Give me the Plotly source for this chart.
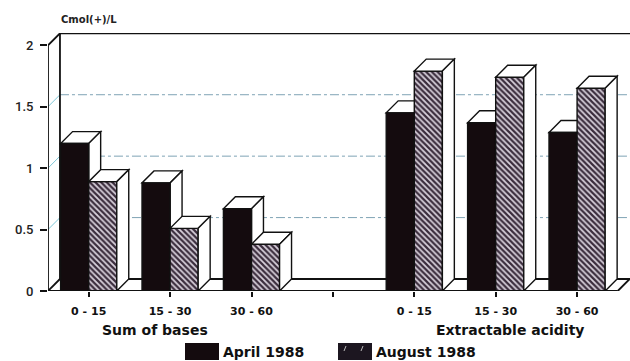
import plotly.graph_objects as go

# ---- data -------------------------------------------------------------
categories = ["0 - 15", "15 - 30", "30 - 60", "", "0 - 15", "15 - 30", "30 - 60"]
april = [1.20, 0.88, 0.67, None, 1.45, 1.37, 1.29]
august = [0.89, 0.51, 0.38, None, 1.79, 1.74, 1.65]
series_names = ["April 1988", "August 1988"]
group_titles = ["Sum of bases", "Extractable acidity"]
y_ticks = [0, 0.5, 1, 1.5, 2]
y_tick_text = ["0", "0.5", "1", "1.5", "2"]
unit_label = "Cmol(+)/L"

# ---- geometry / style -------------------------------------------------
W, H = 630, 361
M_L, M_R, M_T, M_B = 48, 0, 33, 70
X_RANGE = [-0.5, 6.65]
Y_RANGE = [0, 2.1]
BARGAP = 0.31
BAR_W = (1 - BARGAP) / 2
DX, DY = 0.147, 0.0976           # depth offset of the pseudo-3D box
HEAVY = dict(family="DejaVu Sans", size=12, color="#111", weight="bold")
EDGE = dict(color="#111", width=1.4)
GRID = dict(color="#7fa3b5", width=1, dash="dashdot")

xs = list(range(len(categories)))
x_lo, x_hi = X_RANGE

fig = go.Figure()
fig.add_trace(go.Bar(
    x=xs, y=april, name=series_names[0],
    marker=dict(color="#140b0e", line=EDGE),
))
fig.add_trace(go.Bar(
    x=xs, y=august, name=series_names[1],
    marker=dict(color="#ffffff", line=EDGE,
                pattern=dict(shape="\\", fgcolor="#3a2c3c", bgcolor="#d9d2dc",
                             size=4, solidity=0.55, fillmode="replace")),
))

shapes = []


def seg(x0, y0, x1, y1, line, layer="below"):
    shapes.append(dict(type="line", xref="x", yref="y", x0=x0, y0=y0,
                       x1=x1, y1=y1, line=line, layer=layer))


def poly(pts, layer):
    path = "M " + " L ".join(f"{a},{b}" for a, b in pts) + " Z"
    shapes.append(dict(type="path", xref="x", yref="y", path=path,
                       fillcolor="#ffffff", line=EDGE, layer=layer))


# back-wall grid lines and their links to the front axis
for v in y_ticks[1:-1]:
    seg(x_lo + DX, v + DY, x_hi, v + DY, GRID)
    seg(x_lo, v, x_lo + DX, v + DY, dict(color="#7cc6d6", width=1))

# frame: front axis, back wall, floor
frame = dict(color="#111", width=1.8)
seg(x_lo, 0, x_lo, 2, frame)
seg(x_lo, 2, x_lo + DX, 2 + DY, frame)
seg(x_lo + DX, DY, x_lo + DX, 2 + DY, frame)
seg(x_lo + DX, 2 + DY, x_hi, 2 + DY, frame)
seg(x_lo + DX, DY, x_hi, DY, frame)
seg(x_lo, 0, x_lo + DX, DY, frame)

# top and side faces of each box
for i, (a, b) in enumerate(zip(april, august)):
    if a is None:
        continue
    l0, r0 = i - BAR_W, i
    poly([(l0, a), (r0, a), (r0 + DX, a + DY), (l0 + DX, a + DY)], "below")
    poly([(r0, 0), (r0, a), (r0 + DX, a + DY), (r0 + DX, DY)], "below")
    l1, r1 = i, i + BAR_W
    poly([(l1, b), (r1, b), (r1 + DX, b + DY), (l1 + DX, b + DY)], "above")
    poly([(r1, 0), (r1, b), (r1 + DX, b + DY), (r1 + DX, DY)], "above")

# front floor line on top of everything
seg(x_lo, 0, 6.5, 0, frame, layer="above")
seg(6.5, 0, 6.5 + DX, DY, frame, layer="above")

# ---- manual legend (paper coordinates) ---------------------------------
pw, ph = W - M_L - M_R, H - M_T - M_B


def px(x):
    return (x - M_L) / pw


def py(y):
    return (H - M_B - y) / ph


legend_boxes = [(185, 219, "#140b0e"), (338, 372, "#1c1620")]
for x0, x1, col in legend_boxes:
    shapes.append(dict(type="rect", xref="paper", yref="paper",
                       x0=px(x0), x1=px(x1), y0=py(360), y1=py(343),
                       fillcolor=col, line=dict(width=0), layer="above"))
for sx in (344, 361):
    shapes.append(dict(type="line", xref="paper", yref="paper",
                       x0=px(sx), x1=px(sx + 2), y0=py(351), y1=py(346),
                       line=dict(color="#bbbbbb", width=1), layer="above"))

annotations = []
for (x0, _, _), name in zip(legend_boxes, series_names):
    annotations.append(dict(xref="paper", yref="paper", x=px(x0 + 36),
                            y=py(352), text=name, showarrow=False,
                            xanchor="left", yanchor="middle",
                            font=dict(HEAVY, size=14)))

for xc, t in zip([0.82, 5.17], group_titles):
    annotations.append(dict(xref="x", yref="paper", x=xc, y=py(330), text=t,
                            showarrow=False, xanchor="center",
                            yanchor="middle", font=dict(HEAVY, size=14)))

annotations.append(dict(xref="paper", yref="paper", x=px(59), y=py(20),
                        text=unit_label, showarrow=False, xanchor="left",
                        yanchor="middle",
                        font=dict(family="DejaVu Sans", size=10, color="#222",
                                  weight="bold")))

fig.update_layout(
    width=W, height=H,
    margin=dict(l=M_L, r=M_R, t=M_T, b=M_B, pad=0),
    paper_bgcolor="white", plot_bgcolor="white",
    barmode="group", bargap=BARGAP, bargroupgap=0,
    showlegend=False,
    shapes=shapes, annotations=annotations,
    xaxis=dict(range=X_RANGE, tickvals=xs, ticktext=categories,
               ticks="outside", ticklen=5, tickwidth=1.5, tickcolor="#111",
               showgrid=False, zeroline=False, showline=False,
               ticklabelstandoff=5,
               tickfont=dict(HEAVY, size=11)),
    yaxis=dict(range=Y_RANGE, tickvals=y_ticks, ticktext=y_tick_text,
               ticks="outside", ticklen=7, tickwidth=1.5, tickcolor="#111",
               showgrid=False, zeroline=False, showline=False,
               ticklabelstandoff=4,
               tickfont=dict(family="Roboto", size=13, color="#222",
                             weight=500)),
)

fig.write_html("out.html")
